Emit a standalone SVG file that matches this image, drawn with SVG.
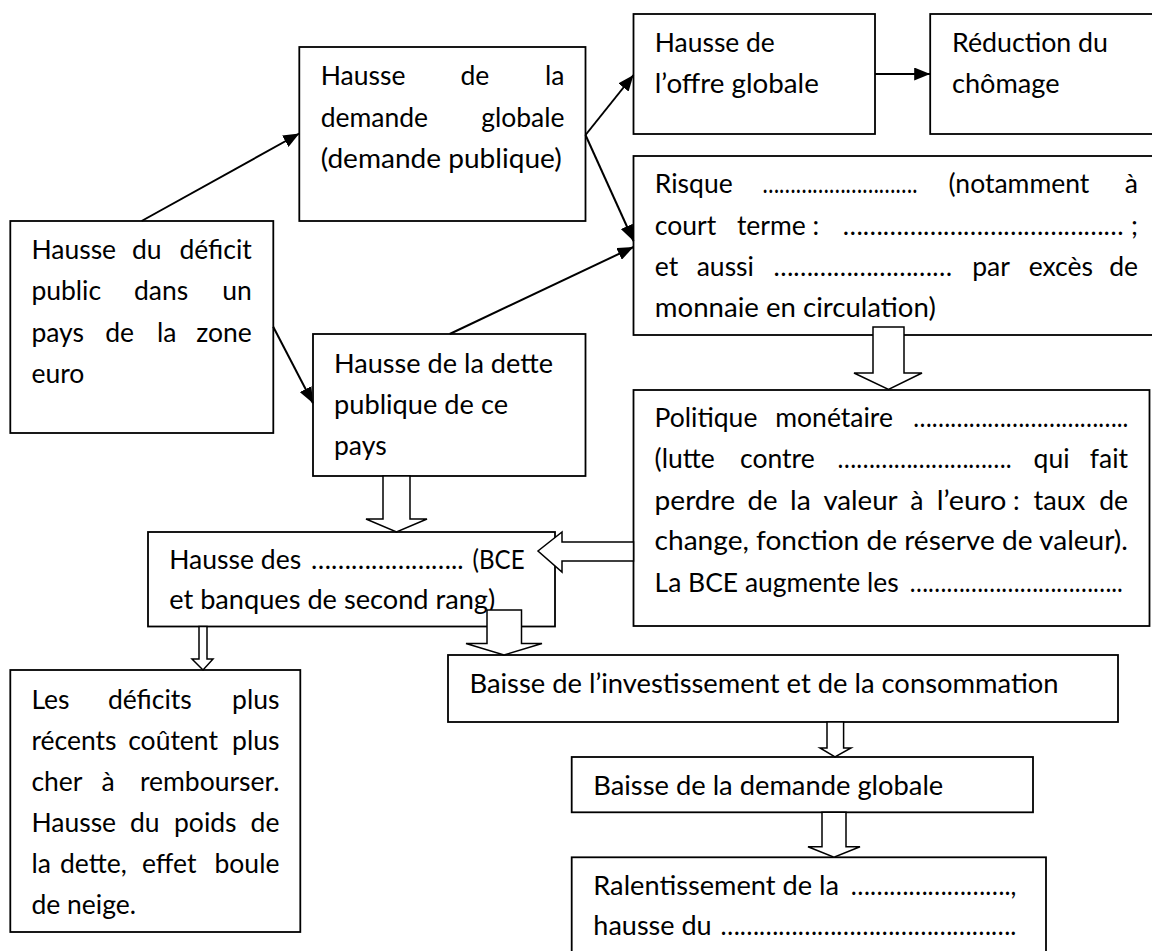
<svg xmlns="http://www.w3.org/2000/svg" width="1152" height="951" viewBox="0 0 1152 951">
<style>
.box{fill:#fff;stroke:#000;stroke-width:1.8}
.t{font-family:Lato,"Liberation Sans",sans-serif;font-size:26.5px;fill:#000}
.e{text-anchor:end}
.ln{stroke:#000;stroke-width:2;fill:none}
.blk{fill:#fff;stroke:#000;stroke-width:1.5;stroke-linejoin:miter}
</style>
<defs>
<marker id="ah" markerUnits="userSpaceOnUse" markerWidth="17" markerHeight="13" refX="16" refY="6.5" orient="auto">
<path d="M0,0 L16,6.5 L0,13 z" fill="#000"/>
</marker>
</defs>
<rect width="1152" height="951" fill="#fff"/>

<g id="deficit">
<rect class="box" x="10.3" y="221" width="263" height="212"/>
<text class="t" x="31.4" y="259.3">Hausse</text><text class="t" x="132" y="259.3">du</text><text class="t e" x="251.8" y="259.3">déficit</text>
<text class="t" x="31.4" y="300">public</text><text class="t" x="134" y="300">dans</text><text class="t e" x="251.8" y="300">un</text>
<text class="t" x="31.4" y="341.7">pays</text><text class="t" x="105.2" y="341.7">de</text><text class="t" x="157" y="341.7">la</text><text class="t e" x="251.8" y="341.7">zone</text>
<text class="t" x="31.4" y="382.7">euro</text>
</g>

<g id="demande">
<rect class="box" x="299.3" y="47" width="286.2" height="174"/>
<text class="t" x="320.7" y="85">Hausse</text><text class="t" x="460.4" y="85">de</text><text class="t e" x="564.5" y="85">la</text>
<text class="t" x="320.7" y="126.7">demande</text><text class="t e" x="564.5" y="126.7">globale</text>
<text class="t" x="320.7" y="168.3" textLength="241" lengthAdjust="spacingAndGlyphs">(demande publique)</text>
</g>

<g id="dette">
<rect class="box" x="313" y="334" width="272.5" height="142"/>
<text class="t" x="334" y="372.5" textLength="219" lengthAdjust="spacingAndGlyphs">Hausse de la dette</text>
<text class="t" x="334" y="413.5" textLength="174" lengthAdjust="spacingAndGlyphs">publique de ce</text>
<text class="t" x="334" y="454.5">pays</text>
</g>

<g id="offre">
<rect class="box" x="633.5" y="14" width="241.5" height="120"/>
<text class="t" x="654.8" y="51.7" textLength="120" lengthAdjust="spacingAndGlyphs">Hausse de</text>
<text class="t" x="654.8" y="93.3" textLength="164" lengthAdjust="spacingAndGlyphs">l’offre globale</text>
</g>

<g id="chomage">
<rect class="box" x="930.2" y="14" width="230" height="120"/>
<text class="t" x="952" y="51.7" textLength="156" lengthAdjust="spacingAndGlyphs">Réduction du</text>
<text class="t" x="952" y="93.3" textLength="107.6" lengthAdjust="spacingAndGlyphs">chômage</text>
</g>

<g id="risque">
<rect class="box" x="633.5" y="156" width="530" height="179"/>
<text class="t" x="654.8" y="193.3">Risque</text><text class="t" x="762.4" y="193.3" textLength="155" lengthAdjust="spacingAndGlyphs">……………………….</text><text class="t" x="948.5" y="193.3">(notamment</text><text class="t e" x="1138" y="193.3">à</text>
<text class="t" x="654.8" y="235">court</text><text class="t" x="736.9" y="235">terme :</text><text class="t" x="842.7" y="235" textLength="281" lengthAdjust="spacingAndGlyphs">……………………………………</text><text class="t e" x="1138" y="235">;</text>
<text class="t" x="654.8" y="276">et</text><text class="t" x="696.7" y="276">aussi</text><text class="t" x="773.4" y="276" textLength="178.6" lengthAdjust="spacingAndGlyphs">………………………</text><text class="t" x="972.2" y="276">par</text><text class="t" x="1028.7" y="276">excès</text><text class="t e" x="1138" y="276">de</text>
<text class="t" x="654.8" y="316.7" textLength="281" lengthAdjust="spacingAndGlyphs">monnaie en circulation)</text>
</g>

<g id="politique">
<rect class="box" x="633.5" y="390" width="516" height="236"/>
<text class="t" x="654.6" y="426.7">Politique</text><text class="t" x="775.3" y="426.7">monétaire</text><text class="t" x="913.3" y="426.7" textLength="215" lengthAdjust="spacingAndGlyphs">……………………………..</text>
<text class="t" x="654.6" y="468.3">(lutte</text><text class="t" x="740" y="468.3">contre</text><text class="t" x="837.6" y="468.3" textLength="174" lengthAdjust="spacingAndGlyphs">……………………….</text><text class="t" x="1033.6" y="468.3">qui</text><text class="t e" x="1128" y="468.3">fait</text>
<text class="t" x="654.6" y="510" textLength="80.5" lengthAdjust="spacingAndGlyphs">perdre</text><text class="t" x="747.6" y="510" textLength="30" lengthAdjust="spacingAndGlyphs">de</text><text class="t" x="790.1" y="510" textLength="20.8" lengthAdjust="spacingAndGlyphs">la</text><text class="t" x="823.4" y="510" textLength="74.3" lengthAdjust="spacingAndGlyphs">valeur</text><text class="t" x="910.2" y="510">à</text><text class="t" x="936.7" y="510" textLength="69.7" lengthAdjust="spacingAndGlyphs">l’euro</text><text class="t" x="1013" y="510">:</text><text class="t" x="1033.4" y="510" textLength="52" lengthAdjust="spacingAndGlyphs">taux</text><text class="t e" x="1128" y="510">de</text>
<text class="t" x="654.6" y="550" textLength="473.4" lengthAdjust="spacingAndGlyphs">change, fonction de réserve de valeur).</text>
<text class="t" x="654.6" y="591.7" textLength="244" lengthAdjust="spacingAndGlyphs">La BCE augmente les</text><text class="t" x="909.8" y="591.7" textLength="213" lengthAdjust="spacingAndGlyphs">……………………………..</text>
</g>

<g id="hausse-des">
<rect class="box" x="148" y="532" width="407" height="94.5"/>
<text class="t" x="169.2" y="569.3" textLength="132" lengthAdjust="spacingAndGlyphs">Hausse des</text><text class="t" x="311" y="569.3" textLength="152.5" lengthAdjust="spacingAndGlyphs">…………………..</text><text class="t" x="472.6" y="569.3" textLength="52" lengthAdjust="spacingAndGlyphs">(BCE</text>
<text class="t" x="169.2" y="609.3" textLength="326" lengthAdjust="spacingAndGlyphs">et banques de second rang)</text>
</g>

<g id="les-deficits">
<rect class="box" x="10.3" y="670" width="290" height="262"/>
<text class="t" x="31.4" y="709.3">Les</text><text class="t" x="107.9" y="709.3">déficits</text><text class="t e" x="279.4" y="709.3">plus</text>
<text class="t" x="31.4" y="750">récents</text><text class="t" x="128.2" y="750">coûtent</text><text class="t e" x="279.4" y="750">plus</text>
<text class="t" x="31.4" y="790.7">cher</text><text class="t" x="101.4" y="790.7">à</text><text class="t e" x="279.4" y="790.7">rembourser.</text>
<text class="t" x="31.4" y="831.7">Hausse</text><text class="t" x="130" y="831.7">du</text><text class="t" x="174" y="831.7">poids</text><text class="t e" x="279.4" y="831.7">de</text>
<text class="t" x="31.4" y="873.3">la</text><text class="t" x="60" y="873.3">dette,</text><text class="t" x="142" y="873.3">effet</text><text class="t e" x="279.4" y="873.3">boule</text>
<text class="t" x="31.4" y="914">de neige.</text>
</g>

<g id="baisse-investissement">
<rect class="box" x="448" y="655" width="670" height="67"/>
<text class="t" x="469.5" y="693.3" textLength="589" lengthAdjust="spacingAndGlyphs">Baisse de l’investissement et de la consommation</text>
</g>

<g id="baisse-demande">
<rect class="box" x="571.7" y="757" width="461.3" height="55.3"/>
<text class="t" x="593.3" y="795" textLength="350" lengthAdjust="spacingAndGlyphs">Baisse de la demande globale</text>
</g>

<g id="ralentissement">
<rect class="box" x="571.7" y="857.3" width="474.3" height="110"/>
<text class="t" x="593.3" y="895" textLength="245.6" lengthAdjust="spacingAndGlyphs">Ralentissement de la</text><text class="t" x="850.8" y="895" textLength="165.5" lengthAdjust="spacingAndGlyphs">…………………….,</text>
<text class="t" x="593.3" y="935" textLength="118.4" lengthAdjust="spacingAndGlyphs">hausse du</text><text class="t" x="720.4" y="935" textLength="296" lengthAdjust="spacingAndGlyphs">……………………………………….</text>
</g>

<g id="connectors">
<line class="ln" x1="141.6" y1="221" x2="299.3" y2="133.5" marker-end="url(#ah)"/>
<line class="ln" x1="273.2" y1="326.7" x2="313" y2="403.3" marker-end="url(#ah)"/>
<line class="ln" x1="585.5" y1="135" x2="633.5" y2="75" marker-end="url(#ah)"/>
<line class="ln" x1="585.5" y1="135" x2="633.5" y2="241" marker-end="url(#ah)"/>
<line class="ln" x1="449.7" y1="334" x2="633.5" y2="247" marker-end="url(#ah)"/>
<line class="ln" x1="875" y1="74" x2="930.2" y2="74" marker-end="url(#ah)"/>
<polygon class="blk" points="873,327 904,327 904,373 922,373 888.5,389.5 854,373 873,373"/>
<polygon class="blk" points="383,476 410,476 410,519 427,519 396.5,532 366,519 383,519"/>
<polygon class="blk" points="487,610 521.5,610 521.5,643.5 542,643.5 504,655 466,643.5 487,643.5"/>
<polygon class="blk" points="199,626.5 207,626.5 207,659 213,659 203,670 192,659 199,659"/>
<polygon class="blk" points="827,722 843.6,722 843.6,748 851,748 835,757 820,748 827,748"/>
<polygon class="blk" points="822,812.3 846,812.3 846,846.7 860,846.7 834,857.3 808,846.7 822,846.7"/>
<polygon class="blk" points="633.5,542 562,542 562,532 538,551 562,572 562,561 633.5,561"/>
</g>
</svg>
